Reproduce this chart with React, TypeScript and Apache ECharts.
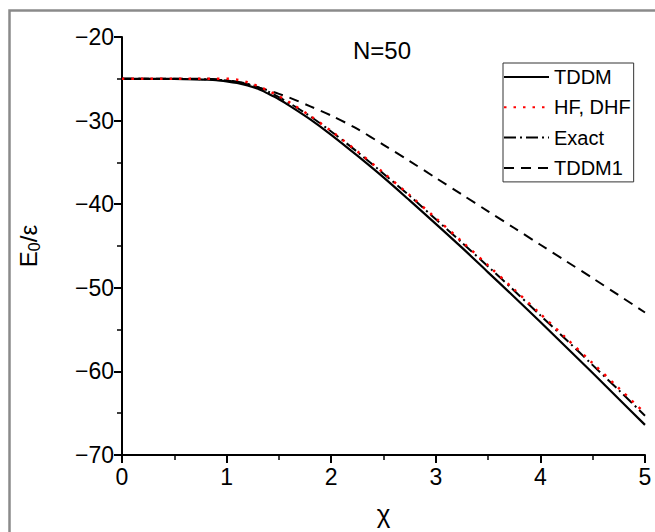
import React, { useEffect, useRef } from "react";
import * as echarts from "echarts";

// x values (chi)
const chi = [0, 0.5, 0.8, 0.9, 1.0, 1.1, 1.2, 1.3, 1.4, 1.5, 1.6, 1.8, 2.0, 2.25, 2.5, 2.75, 3.0, 3.25, 3.5, 3.75, 4.0, 4.25, 4.5, 4.75, 5.0];

// E0/epsilon
const tddm = [-25.0, -25.0, -25.1, -25.15, -25.3, -25.5, -25.8, -26.2, -26.8, -27.45, -28.2, -29.85, -31.7, -34.2, -36.8, -39.55, -42.35, -45.2, -48.15, -51.1, -54.1, -57.15, -60.2, -63.3, -66.4];
const hf = [-25.0, -25.0, -25.0, -25.0, -25.0, -25.11, -25.42, -25.87, -26.43, -27.08, -27.81, -29.44, -31.25, -33.68, -36.25, -38.92, -41.67, -44.47, -47.32, -50.21, -53.13, -56.07, -59.03, -62.01, -65.0];
const exact = [-25.0, -25.02, -25.05, -25.1, -25.2, -25.35, -25.6, -26.0, -26.55, -27.2, -27.9, -29.5, -31.3, -33.75, -36.35, -39.0, -41.8, -44.6, -47.45, -50.35, -53.3, -56.25, -59.25, -62.25, -65.3];
const tddm1 = [-25.0, -25.0, -25.0, -25.05, -25.2, -25.4, -25.65, -26.0, -26.4, -26.8, -27.25, -28.3, -29.4, -31.0, -32.9, -34.85, -36.85, -38.85, -40.85, -42.85, -44.85, -46.85, -48.85, -50.9, -52.95];

const seriesNames = ["TDDM", "HF, DHF", "Exact", "TDDM1"];
const xTicks = [0, 1, 2, 3, 4, 5];
const yTicks = [-70, -60, -50, -40, -30, -20];

const FONT = "'Liberation Sans', Arial, sans-serif";

const pair = (ys: number[]) => chi.map((x, i) => [x, ys[i]]);

export default function App() {
  const ref = useRef<HTMLDivElement>(null);
  useEffect(() => {
    if (!ref.current) return;
    const chart = echarts.init(ref.current, undefined, { renderer: "svg" });
    const fmt = (v: number) => String(v).replace("-", "\u2212");
    chart.setOption({
      animation: false,
      backgroundColor: "#ffffff",
      title: {
        text: "N=50",
        left: 377,
        top: 33,
        textAlign: "center",
        textStyle: { fontFamily: FONT, fontSize: 24, fontWeight: "normal", color: "#000" },
      },
      graphic: [
        {
          type: "rect",
          left: 7,
          top: 8,
          shape: { width: 700, height: 600 },
          style: { fill: "none", stroke: "#8a8a8a", lineWidth: 2.5 },
          silent: true,
          z: -1,
        },
      ],
      legend: {
        orient: "vertical",
        left: 503,
        top: 63,
        padding: [4, 3, 4, 0],
        itemWidth: 45,
        itemHeight: 14,
        itemGap: 10.3,
        borderColor: "#333",
        borderWidth: 1,
        data: seriesNames,
        itemStyle: { opacity: 0 },
        textStyle: { fontFamily: FONT, fontSize: 20, color: "#000" },
      },
      grid: { left: 122, right: 10, top: 37, bottom: 77, containLabel: false },
      xAxis: {
        type: "value",
        min: xTicks[0],
        max: xTicks[xTicks.length - 1],
        interval: 1,
        name: "\u03c7",
        nameLocation: "middle",
        nameGap: 46,
        nameTextStyle: { fontFamily: FONT, fontSize: 26, color: "#000" },
        axisLine: { onZero: false, lineStyle: { color: "#000", width: 2 } },
        axisTick: { length: 8, lineStyle: { color: "#000", width: 2 } },
        minorTick: { show: true, splitNumber: 2, length: 5, lineStyle: { color: "#000", width: 1.5 } },
        splitLine: { show: false },
        axisLabel: { fontFamily: FONT, fontSize: 23, color: "#000", margin: 10, formatter: fmt },
      },
      yAxis: {
        type: "value",
        min: yTicks[0],
        max: yTicks[yTicks.length - 1],
        interval: 10,
        name: "{a|E}{s|0}{a|/\u03b5}",
        nameLocation: "middle",
        nameGap: 80,
        nameRotate: 90,
        nameTextStyle: {
          fontFamily: FONT,
          color: "#000",
          rich: {
            a: { fontFamily: FONT, fontSize: 24, color: "#000" },
            s: { fontFamily: FONT, fontSize: 16, color: "#000", verticalAlign: "bottom", padding: [12, 0, 0, 0] },
          },
        },
        axisLine: { onZero: false, lineStyle: { color: "#000", width: 2 } },
        axisTick: { length: 8, lineStyle: { color: "#000", width: 2 } },
        minorTick: { show: true, splitNumber: 2, length: 5, lineStyle: { color: "#000", width: 1.5 } },
        splitLine: { show: false },
        axisLabel: { fontFamily: FONT, fontSize: 23, color: "#000", margin: 8, formatter: fmt },
      },
      series: [
        {
          name: seriesNames[0],
          type: "line",
          data: pair(tddm),
          smooth: 0.3,
          symbol: "none",
          z: 3,
          lineStyle: { color: "#000", width: 2.2, type: "solid" },
          itemStyle: { color: "#000" },
        },
        {
          name: seriesNames[1],
          type: "line",
          data: pair(hf),
          smooth: 0.3,
          symbol: "none",
          z: 4,
          lineStyle: { color: "#ff0000", width: 2.5, type: [2.5, 7] },
          itemStyle: { color: "#ff0000" },
        },
        {
          name: seriesNames[2],
          type: "line",
          data: pair(exact),
          smooth: 0.3,
          symbol: "none",
          z: 3,
          lineStyle: { color: "#000", width: 2, type: [12, 4, 2, 4] },
          itemStyle: { color: "#000" },
        },
        {
          name: seriesNames[3],
          type: "line",
          data: pair(tddm1),
          smooth: 0.3,
          symbol: "none",
          z: 3,
          lineStyle: { color: "#000", width: 2, type: [10, 7] },
          itemStyle: { color: "#000" },
        },
      ],
    });
    return () => chart.dispose();
  }, []);
  return (
    <div
      ref={ref}
      style={{ position: "absolute", left: 0, top: 0, width: 655, height: 532 }}
    />
  );
}
